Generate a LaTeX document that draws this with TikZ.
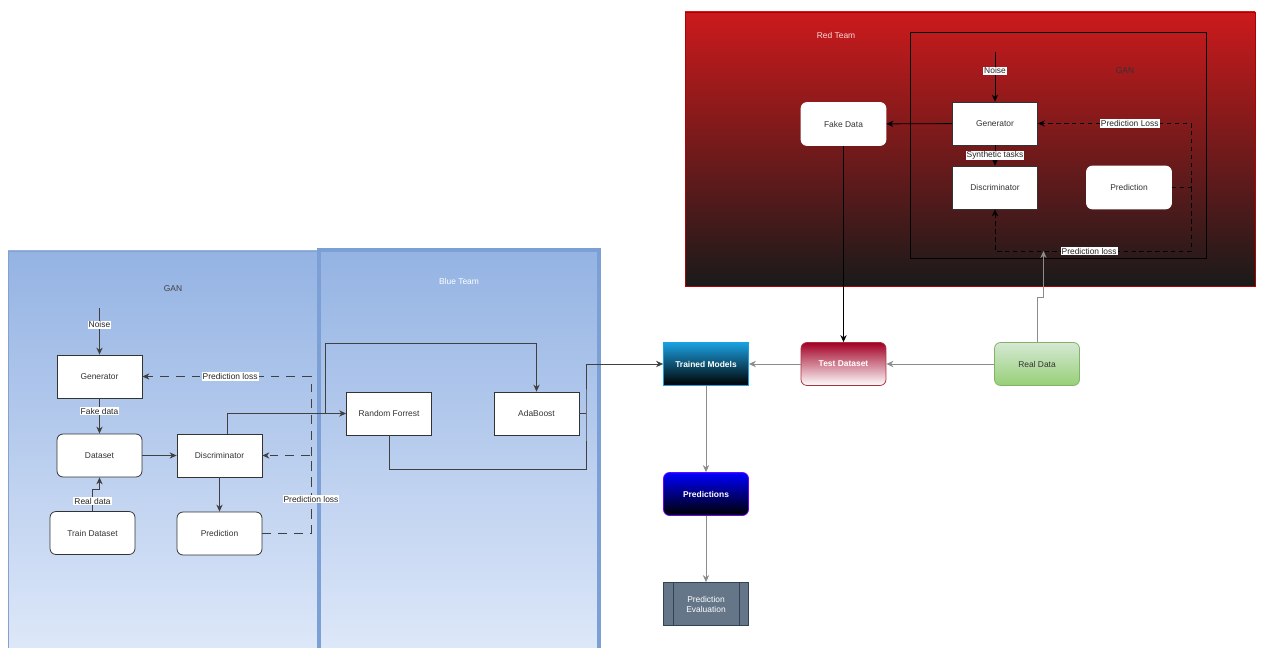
\documentclass[tikz,border=0pt]{standalone}
\usepackage{fontspec}
\setmainfont{Liberation Sans}
\usepackage{tikz}
\usetikzlibrary{arrows.meta, positioning}

\definecolor{bluetop}{HTML}{94B3E3}
\definecolor{bluebot}{HTML}{DFE9F9}
\definecolor{blueedge}{HTML}{7CA0D6}
\definecolor{redtop}{HTML}{CC1A1C}
\definecolor{redbot}{HTML}{1A1A1A}
\definecolor{rededge}{HTML}{B20000}
\definecolor{tmtop}{HTML}{1BA1E2}
\definecolor{tdtop}{HTML}{A20025}
\definecolor{tdedge}{HTML}{A8323E}
\definecolor{rdtop}{HTML}{D5E8D4}
\definecolor{rdbot}{HTML}{97D077}
\definecolor{rdedge}{HTML}{82B366}
\definecolor{prtop}{HTML}{0000FF}
\definecolor{predge}{HTML}{7000FF}
\definecolor{evfill}{HTML}{647687}
\definecolor{evedge}{HTML}{314354}

\begin{document}
\begin{tikzpicture}[x=0.02cm, y=-0.02cm,
  font=\fontsize{4.8}{5.7}\selectfont,
  blk/.style={draw=black!80, fill=white, line width=0.45pt, minimum width=1.7cm,
    minimum height=0.86cm, inner sep=0pt, text=black!80},
  rblk/.style={blk, rounded corners=0.12cm},
  conn/.style={draw=black!75, line width=0.5pt, -{Stealth[length=4pt,width=3.6pt]}},
  gconn/.style={conn, draw=black!45},
  lossln/.style={conn, dash pattern=on 5pt off 4pt},
  rlossln/.style={conn, draw=black, dash pattern=on 2.5pt off 2pt},
  lbl/.style={fill=white, inner sep=0.6pt, text=black!85},
  boldtxt/.style={text=white, font=\fontsize{4.8}{5.7}\selectfont\bfseries},
]
\useasboundingbox (0,0) rectangle (1262,648);
\fill[white] (0,0) rectangle (1262,648);

% Blue side panels
\shade[top color=bluetop, bottom color=bluebot, draw=bluetop!90!black, line width=0.3pt]
  (8,251) rectangle (318,660);
\shade[top color=bluetop, bottom color=bluebot, draw=blueedge, line width=1.8pt]
  (319,250) rectangle (599,660);
\node[text=black!75] (lgan) at (173,289) {GAN};
\node[text=white] (blueteam) at (459,281) {Blue Team};

% Red side panel
\shade[top color=redtop, bottom color=redbot, draw=rededge, line width=0.5pt]
  (685,12) rectangle (1255,286);
\draw[black, line width=0.45pt] (910,32) rectangle (1206,258);
\node[text=white!85!red] (redteam) at (836,35) {Red Team};
\node[text=black!80] (rgan) at (1125,71) {GAN};

% GAN of the blue side
\node[blk] (lgen) at (99.5,376.5) {Generator};
\node[rblk] (ldata) at (99.5,455.5) {Dataset};
\node[rblk] (ltrain) at (92.5,533) {Train Dataset};
\node[blk] (ldisc) at (219.5,455.5) {Discriminator};
\node[rblk] (lpred) at (219.5,533.5) {Prediction};
\coordinate (lnoise) at (99.5,308);
\coordinate (lbend) at (311,533.5);
\coordinate (lsplit) at (325,413.5);

\draw[conn] (lnoise) -- node[lbl, pos=0.36] {Noise} (lgen);
\draw[conn] (lgen) -- node[lbl, pos=0.36] {Fake data} (ldata);
\draw[conn] (ltrain.north) -- node[lbl, pos=0.45] {Real data} ++(0,-22) -| (ldata.south);
\draw[conn] (ldata) -- (ldisc);
\draw[conn] (ldisc) -- (lpred);
\draw[lossln] (lpred.east) -- (lbend) |- node[lbl, pos=0.74] {Prediction loss} (lgen.east);
\draw[lossln] (lbend) |- node[lbl, pos=0.22] {Prediction loss} (ldisc.east);

% Blue team models
\node[blk] (rf) at (389,413.5) {Random Forrest};
\node[blk] (ada) at (536.5,413.5) {AdaBoost};
\coordinate (bjoin) at (586,413.5);

\draw[conn, -] ([xshift=0.15cm]ldisc.north) |- (lsplit);
\draw[conn] (lsplit) -- (rf);
\draw[conn] (lsplit) -- (325,343) -| (ada.north);
\draw[conn, -] (ada.east) -- (bjoin);

% Evaluation chain
\node[blk, draw=tmtop, top color=tmtop, bottom color=black, boldtxt] (tm) at (706,364) {Trained Models};
\node[rblk, draw=tdedge, top color=tdtop, bottom color=white, boldtxt] (td) at (843.5,364) {Test Dataset};
\node[rblk, draw=rdedge, top color=rdtop, bottom color=rdbot] (rd) at (1037,364) {Real Data};
\node[rblk, draw=predge, top color=prtop, bottom color=black, boldtxt] (pr) at (706,494) {Predictions};
\node[blk, draw=evedge, fill=evfill, text=white, align=center] (ev) at (706,604) {Prediction\\Evaluation};
\draw[evedge, line width=0.45pt] ([xshift=0.2cm]ev.north west) -- ([xshift=0.2cm]ev.south west);
\draw[evedge, line width=0.45pt] ([xshift=-0.18cm]ev.north east) -- ([xshift=-0.18cm]ev.south east);

\draw[conn] (rf.south) -- ++(0,34) -| (bjoin) |- (tm.west);
\draw[gconn] (td) -- (tm);
\draw[gconn] (rd) -- (td);
\draw[gconn] (tm) -- (pr);
\draw[gconn] (pr) -- (ev);

% GAN of the red side
\node[blk] (rgen) at (995,123.5) {Generator};
\node[blk] (rdisc) at (995,187.5) {Discriminator};
\node[rblk, draw=white] (rpred) at (1129,187.5) {Prediction};
\node[rblk, draw=white] (fake) at (843.5,124) {Fake Data};
\coordinate (rnoise) at (995,52);
\coordinate (rbend) at (1191,187.5);
\coordinate (rin) at (1043.5,251);

\draw[conn, draw=black] (rnoise) -- node[lbl, pos=0.38] {Noise} (rgen);
\draw[conn, draw=black] (rgen) -- node[lbl] {Synthetic tasks} (rdisc);
\draw[conn, draw=black] (rgen) -- (fake);
\draw[rlossln] (rpred.east) -- (rbend) |- node[lbl, pos=0.7] {Prediction Loss} (rgen.east);
\draw[rlossln] (rbend) -- (1191,251) -| node[lbl, pos=0.26] {Prediction loss} (rdisc.south);
\draw[conn, draw=black] (fake) -- (td);
\draw[gconn] (rd.north) -- ++(0,-45) -| (rin);
\end{tikzpicture}
\end{document}
